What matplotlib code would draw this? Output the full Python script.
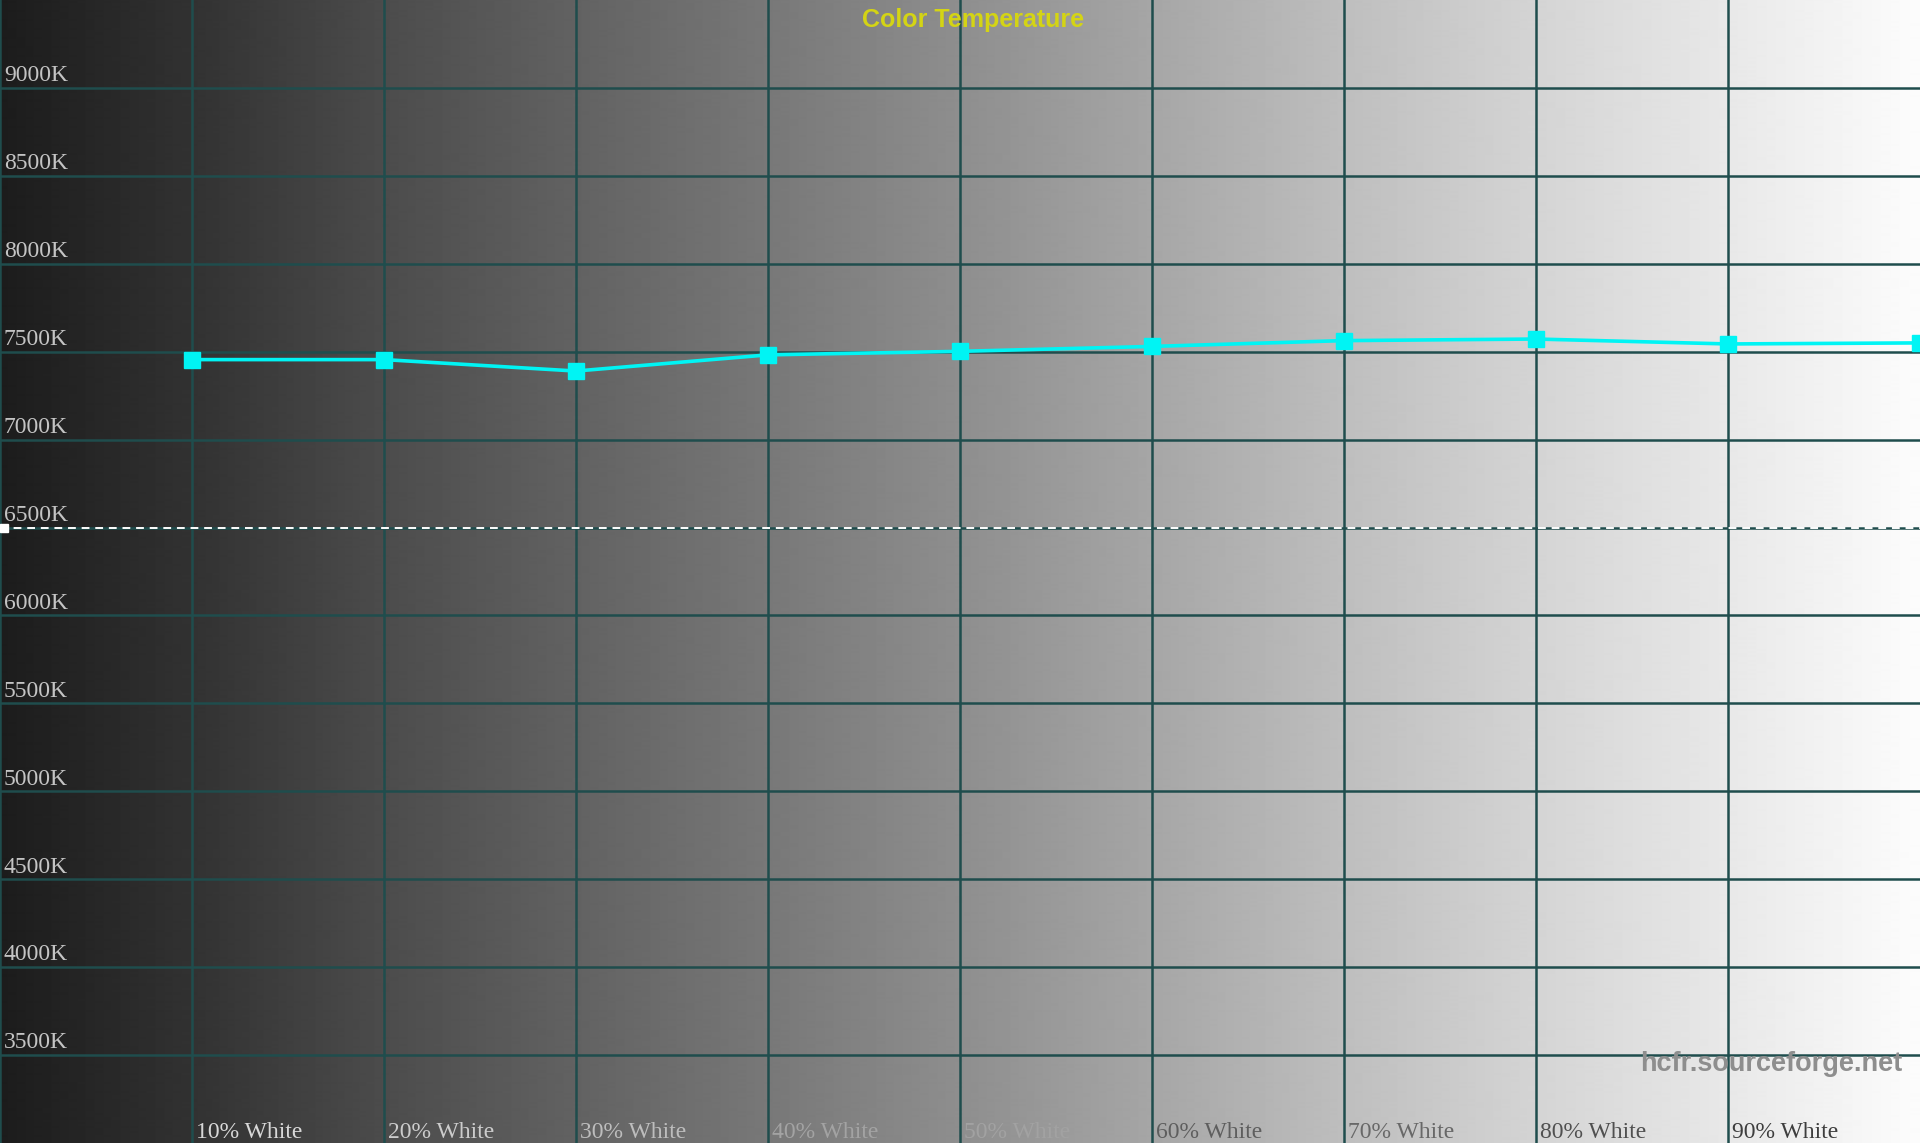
import numpy as np
import matplotlib
matplotlib.use('Agg')
import matplotlib.pyplot as plt

# measured colour temperature per stimulus level
levels = [10, 20, 30, 40, 50, 60, 70, 80, 90, 100]
temps = [7455, 7455, 7390, 7482, 7502, 7530, 7563, 7572, 7544, 7550]

y_ticks = [3500, 4000, 4500, 5000, 5500, 6000, 6500, 7000, 7500, 8000, 8500, 9000]
x_ticks = [0, 10, 20, 30, 40, 50, 60, 70, 80, 90]
x_labels = ['10% White', '20% White', '30% White', '40% White', '50% White',
            '60% White', '70% White', '80% White', '90% White']
x_label_colors = ['#d8d8d8', '#cccccc', '#bdbdbd', '#a3a3a3', '#a2a2a2',
                  '#5e5e5e', '#686868', '#505050', '#3e3e3e']

# grey level of the background at each gridline (0..100 %)
bg_levels = [0x1c, 0x32, 0x4c, 0x62, 0x78, 0x8e, 0xa6, 0xbe, 0xd4, 0xe8, 0xfc]

fig = plt.figure(figsize=(19.2, 11.43), dpi=100)
ax = fig.add_axes([0, 0, 1, 1])

xs = np.linspace(0, 100, 1920)
grey = np.interp(xs, np.linspace(0, 100, len(bg_levels)), bg_levels) / 255.0
bg = np.tile(grey, (2, 1))
ax.imshow(bg, cmap='gray', vmin=0, vmax=1, aspect='auto',
          extent=(0, 100, 3000, 9500), zorder=0, interpolation='bilinear')

ax.set_xlim(0, 100)
ax.set_ylim(3000, 9500)
ax.set_xticks(x_ticks)
ax.set_yticks(y_ticks)
ax.grid(True, color='#1f4d4d', linewidth=1.8, zorder=1)
ax.tick_params(left=False, bottom=False, labelleft=False, labelbottom=False)
for s in ax.spines.values():
    s.set_visible(False)

# 6500K reference
ax.axhline(6500, color='white', linestyle=(0, (4, 3)), linewidth=1.4, zorder=2)
ax.plot([0.2], [6500], marker='s', color='white', markersize=6, zorder=3)

ax.plot(levels, temps, color='#00f4f4', linewidth=2.6, marker='s',
        markersize=11, zorder=4, clip_on=True)

for t in y_ticks:
    ax.text(0.2, t + 38, f'{t}K', fontsize=17, family='Liberation Serif',
            color='#c4c4c4', ha='left', va='baseline', zorder=5)

for x, lab, c in zip(x_ticks[1:], x_labels, x_label_colors):
    ax.text(x + 0.2, 3028, lab, fontsize=17, family='Liberation Serif',
            color=c, ha='left', va='baseline', zorder=5)

ax.text(50.7, 9345, 'Color Temperature', fontsize=18, fontweight='bold',
        family='Liberation Sans', color='#d4d414', ha='center', va='baseline', zorder=5)

ax.text(99.1, 3410, 'hcfr.sourceforge.net', fontsize=19.5, fontweight='bold',
        family='Liberation Sans', color='#8e8e8e', ha='right', va='baseline', zorder=5)

fig.savefig('out.png', dpi=100)
